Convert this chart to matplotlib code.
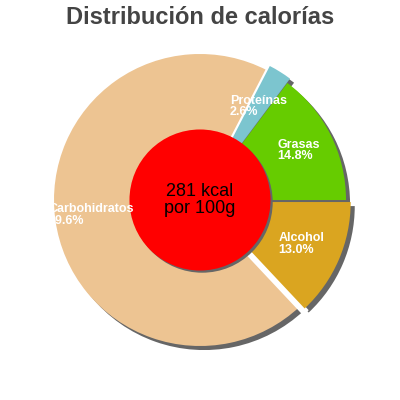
import numpy as np
import matplotlib
matplotlib.use("Agg")
import matplotlib.pyplot as plt
import matplotlib.patches as mpatches

plt.rcParams['font.family'] = ['Liberation Sans', 'DejaVu Sans']

labels = ['Grasas', 'Proteínas', 'Carbohidratos', 'Alcohol']
values = [14.8, 2.6, 69.6, 13.0]
colors = ['#66cc00', '#7cc5cf', '#edc492', '#daa520']
explode = [0, 0.035, 0, 0.035]
center_text = '281 kcal\npor 100g'
title = 'Distribución de calorías'

fig = plt.figure(figsize=(4, 4), dpi=100)
ax = fig.add_axes([0.135, 0.135, 0.73, 0.73])

wedges, _ = ax.pie(values, colors=colors, explode=explode, startangle=0,
                   counterclock=True, radius=1,
                   wedgeprops=dict(linewidth=0, zorder=2))

carb = wedges[labels.index('Carbohidratos')]

# flat grey shadows, offset to the lower right
for w, ex in zip(wedges, explode):
    w.set_clip_on(False)
    s = mpatches.Shadow(w, 0.02, -0.02)
    s.set_facecolor('#666666')
    s.set_edgecolor('none')
    s.set_alpha(1)
    s.set_zorder(1)
    s.set_clip_on(False)
    ax.add_patch(s)
    if ex > 0:
        w.set_zorder(2.5)
        # white gap on the side facing the big slice
        if abs(w.theta1 - carb.theta2) < 1e-6:
            a, lw = np.deg2rad(w.theta1), 5.5
        else:
            a, lw = np.deg2rad(w.theta2), 2.5
        ax.plot([0, 1.06 * np.cos(a)], [0, 1.06 * np.sin(a)], color='white',
                lw=lw, zorder=2.2, solid_capstyle='butt', clip_on=False)

# labels
for w, lab, v in zip(wedges, labels, values):
    mid = np.deg2rad((w.theta1 + w.theta2) / 2)
    r = 0.755
    t = ax.text(r * np.cos(mid), r * np.sin(mid), '%s\n%.1f%%' % (lab, v),
                ha='center', va='center', multialignment='left',
                color='white', fontsize=9, fontweight='bold',
                linespacing=0.95, zorder=5)
    clip = mpatches.Rectangle((-1, -2), 4, 4, transform=ax.transData)
    t.set_clip_path(clip)

# centre disc
shadow_c = mpatches.Circle((0.015, -0.015), 0.483, facecolor='#666666',
                           edgecolor='none', zorder=3)
ax.add_patch(shadow_c)
disc = mpatches.Circle((0, 0), 0.483, facecolor='#ff0000', edgecolor='none', zorder=4)
ax.add_patch(disc)
ax.text(0, 0, center_text, ha='center', va='center', fontsize=13,
        color='black', linespacing=1.0, zorder=6)

ax.set_xlim(-1, 1)
ax.set_ylim(-1, 1)
ax.set_aspect('equal')
ax.axis('off')

fig.text(0.5, 1 - 18 / 400, title, ha='center', va='center',
         fontsize=17, fontweight='bold', color='#444444')

fig.savefig('out.png', dpi=100)
